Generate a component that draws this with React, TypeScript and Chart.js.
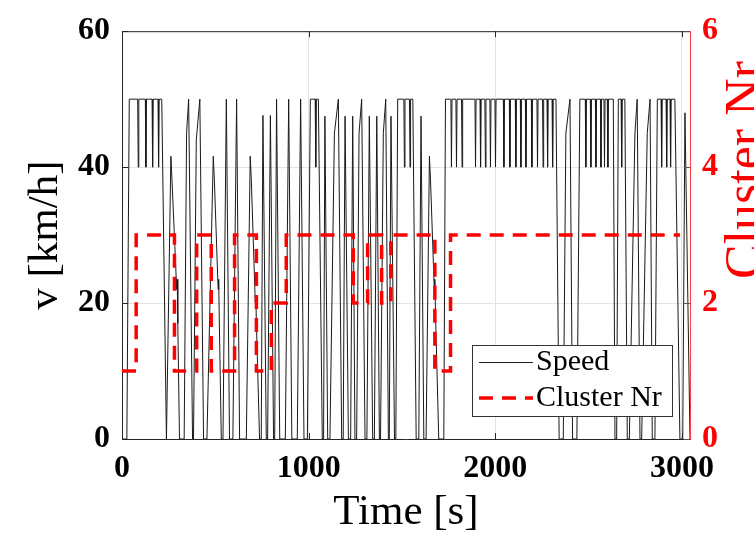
import React, { useEffect, useRef } from 'react';
import { Chart, registerables } from 'chart.js';

Chart.register(...registerables);

// ---------- data ----------
const speedTime = [
  0, 26, 39, 84, 87, 90, 125, 128, 131, 161, 164, 167, 193, 196, 199, 213, 238,
  262, 268, 293, 296, 299, 308,
  333, 346, 357, 378,
  383, 398, 417, 437,
  455, 489, 495, 515, 518, 521, 532,
  541, 559, 576,
  594, 614, 630,
  666, 687, 693, 714, 717, 720, 737,
  746, 755, 773,
  780, 795, 812,
  818, 828, 845,
  875, 893, 910,
  939, 957, 975,
  993, 1009, 1035, 1038, 1041, 1052, 1073,
  1080, 1087, 1102,
  1114, 1138, 1159, 1177,
  1185, 1195, 1213,
  1225, 1236, 1248,
  1257, 1270, 1284, 1302,
  1312, 1325, 1343,
  1352, 1365, 1379,
  1385, 1400, 1413, 1427,
  1432, 1441, 1460,
  1467, 1477, 1510, 1513, 1516, 1540, 1543, 1546, 1558, 1576,
  1590, 1602, 1617,
  1629, 1647, 1653, 1673, 1676, 1680, 1697,
  1724, 1733,
  1762, 1765, 1768, 1789, 1792, 1795, 1819, 1822, 1825,
  1891, 1894, 1897, 1918, 1921, 1924, 1944, 1947, 1950,
  1971, 1974, 1977, 1998, 2001, 2004, 2043, 2046, 2049,
  2075, 2078, 2081, 2107, 2110, 2113, 2134, 2137, 2140,
  2161, 2164, 2167, 2193, 2196, 2199, 2223, 2226, 2229,
  2253, 2256, 2259, 2277, 2280, 2283, 2304, 2307, 2310,
  2325, 2342,
  2364, 2378, 2400, 2414,
  2437, 2453,
  2482, 2485, 2488, 2509, 2512, 2515, 2536, 2539, 2542,
  2563, 2566, 2569, 2582, 2585, 2588, 2600, 2603, 2606,
  2632, 2641,
  2650, 2659, 2674, 2677, 2680, 2694, 2707,
  2718, 2748, 2760, 2775,
  2784, 2814, 2829, 2841,
  2855, 2868, 2888, 2891, 2894, 2915, 2918, 2921, 2936, 2939, 2942, 2962, 2989,
  3004, 3016, 3043,
];

const speedValue = [
  0, 0, 50, 50, 40, 50, 50, 40, 50, 50, 40, 50, 50, 40, 50, 50, 0,
  41.6, 38, 22, 23.5, 17, 0,
  0, 45, 50, 0,
  0, 44, 50, 0,
  0, 41.6, 38, 22, 23.5, 18, 0,
  0, 50, 0,
  0, 50, 0,
  0, 41.6, 38, 20, 21, 17, 0,
  0, 47.6, 0,
  0, 47.6, 0,
  0, 50, 0,
  0, 50, 0,
  0, 50, 0,
  0, 50, 50, 40, 50, 50, 0,
  0, 47.5, 0,
  0, 45, 50, 0,
  0, 47.5, 0,
  0, 47.5, 0,
  0, 45, 50, 0,
  0, 47.5, 0,
  0, 47.5, 0,
  0, 45, 50, 0,
  0, 47.5, 0,
  0, 50, 50, 40, 50, 50, 40, 50, 50, 0,
  0, 47.5, 0,
  0, 41.6, 38, 22, 23.5, 18, 0,
  0, 50,
  50, 40, 50, 50, 40, 50, 50, 40, 50,
  50, 40, 50, 50, 40, 50, 50, 40, 50,
  50, 40, 50, 50, 40, 50, 50, 40, 50,
  50, 40, 50, 50, 40, 50, 50, 40, 50,
  50, 40, 50, 50, 40, 50, 50, 40, 50,
  50, 40, 50, 50, 40, 50, 50, 40, 50,
  50, 0,
  0, 45, 50, 0,
  0, 50,
  50, 40, 50, 50, 40, 50, 50, 40, 50,
  50, 40, 50, 50, 40, 50, 50, 40, 50,
  50, 0,
  0, 50, 50, 40, 50, 50, 0,
  0, 45, 50, 0,
  0, 45, 50, 0,
  0, 50, 50, 40, 50, 50, 40, 50, 50, 40, 50, 50, 0,
  0, 48, 0,
];

const clusterTime = [0, 76, 281, 400, 478, 603, 720, 800, 880, 1239, 1316, 1391, 1440, 1676, 1760, 2990];
const clusterValue = [1, 3, 1, 3, 1, 3, 1, 2, 3, 2, 3, 2, 3, 1, 3, 3];

const xTicks = [0, 1000, 2000, 3000];
const yTicks = [0, 20, 40, 60];
const y1Ticks = [0, 2, 4, 6];

// ---------- layout constants ----------
const W = 800;
const H = 560;
const AREA_LEFT = 122;
const AREA_RIGHT = 690;
const AREA_TOP = 21;
const AREA_BOTTOM = 439;
const FONT = "'Liberation Serif', 'Times New Roman', serif";

const decorPlugin = {
  id: 'decor',
  afterDraw(chart: any) {
    const ctx = chart.ctx as CanvasRenderingContext2D;
    const a = chart.chartArea;
    const xs = chart.scales.x;
    const ys = chart.scales.y;
    const y1s = chart.scales.y1;
    ctx.save();
    // top frame line
    ctx.strokeStyle = '#262626';
    ctx.lineWidth = 1;
    ctx.beginPath();
    ctx.moveTo(a.left, a.top + 0.5);
    ctx.lineTo(a.right, a.top + 0.5);
    ctx.stroke();
    // inner ticks
    ctx.beginPath();
    xTicks.forEach((v) => {
      const px = Math.round(xs.getPixelForValue(v)) + 0.5;
      ctx.moveTo(px, a.bottom);
      ctx.lineTo(px, a.bottom - 6);
      ctx.moveTo(px, a.top);
      ctx.lineTo(px, a.top + 6);
    });
    yTicks.forEach((v) => {
      const py = Math.round(ys.getPixelForValue(v)) + 0.5;
      ctx.moveTo(a.left, py);
      ctx.lineTo(a.left + 6, py);
    });
    ctx.stroke();
    ctx.strokeStyle = '#555555';
    ctx.beginPath();
    y1Ticks.forEach((v) => {
      const py = Math.round(y1s.getPixelForValue(v)) + 0.5;
      ctx.moveTo(a.right, py);
      ctx.lineTo(a.right - 6, py);
    });
    ctx.stroke();

    // legend
    const lx = 472, ly = 345, lw = 201, lh = 72;
    ctx.fillStyle = '#ffffff';
    ctx.fillRect(lx, ly, lw, lh);
    ctx.strokeStyle = '#333333';
    ctx.lineWidth = 1;
    ctx.strokeRect(lx + 0.5, ly + 0.5, lw - 1, lh - 1);
    ctx.strokeStyle = '#1a1a1a';
    ctx.lineWidth = 1;
    ctx.beginPath();
    ctx.moveTo(479, 362.5);
    ctx.lineTo(533, 362.5);
    ctx.stroke();
    ctx.strokeStyle = '#ff0000';
    ctx.lineWidth = 3.5;
    ctx.setLineDash([14, 9]);
    ctx.beginPath();
    ctx.moveTo(479, 398);
    ctx.lineTo(533, 398);
    ctx.stroke();
    ctx.setLineDash([]);
    ctx.fillStyle = '#000000';
    ctx.font = `30px ${FONT}`;
    ctx.textAlign = 'left';
    ctx.textBaseline = 'middle';
    ctx.fillText('Speed', 536, 362);
    ctx.fillText('Cluster Nr', 536, 398);

    // right axis title (reads bottom-to-top, partly cut by the page edge)
    ctx.translate(761, 170);
    ctx.rotate(-Math.PI / 2);
    ctx.font = `52px ${FONT}`;
    ctx.fillStyle = '#ff0000';
    ctx.textAlign = 'center';
    ctx.textBaseline = 'alphabetic';
    ctx.fillText('Cluster Nr', 0, 0);
    ctx.restore();
  },
};

export default function App() {
  const canvasRef = useRef<HTMLCanvasElement | null>(null);

  useEffect(() => {
    const canvas = canvasRef.current;
    if (!canvas) return;
    const tickFont = { family: FONT, size: 32, weight: 'bold' as const };
    const chart = new Chart(canvas, {
      type: 'line',
      data: {
        datasets: [
          {
            label: 'Cluster Nr',
            data: clusterTime.map((t, i) => ({ x: t, y: clusterValue[i] })),
            yAxisID: 'y1',
            borderColor: '#ff0000',
            borderWidth: 3.5,
            borderDash: [14, 9],
            stepped: 'before',
            pointRadius: 0,
            fill: false,
          },
          {
            label: 'Speed',
            data: speedTime.map((t, i) => ({ x: t, y: speedValue[i] })),
            yAxisID: 'y',
            borderColor: '#1a1a1a',
            borderWidth: 1,
            pointRadius: 0,
            tension: 0,
            fill: false,
          },
        ],
      },
      options: {
        animation: false,
        responsive: false,
        devicePixelRatio: 1,
        layout: { padding: { top: AREA_TOP, left: 0, right: 0, bottom: 0 } },
        plugins: { legend: { display: false }, tooltip: { enabled: false } },
        scales: {
          x: {
            type: 'linear',
            min: 0,
            max: 3043,
            afterBuildTicks: (s: any) => {
              s.ticks = xTicks.map((v) => ({ value: v }));
            },
            afterFit: (s: any) => {
              s.height = H - AREA_BOTTOM;
            },
            ticks: {
              font: tickFont,
              color: '#000000',
              padding: 11,
              maxRotation: 0,
              autoSkip: false,
              callback: (v: any) => String(v),
            },
            grid: { color: '#e3e3e3', drawTicks: false },
            border: { color: '#262626', width: 1 },
            title: {
              display: true,
              text: 'Time [s]',
              font: { family: FONT, size: 43 },
              color: '#000000',
              padding: { top: 0, bottom: 21 },
            },
          },
          y: {
            position: 'left',
            min: 0,
            max: 60,
            afterBuildTicks: (s: any) => {
              s.ticks = yTicks.map((v) => ({ value: v }));
            },
            afterFit: (s: any) => {
              s.width = AREA_LEFT;
            },
            ticks: {
              font: tickFont,
              color: '#000000',
              padding: 12,
              callback: (v: any) => String(v),
            },
            grid: { color: '#e3e3e3', drawTicks: false },
            border: { color: '#262626', width: 1 },
            title: {
              display: true,
              text: 'v [km/h]',
              font: { family: FONT, size: 43 },
              color: '#000000',
              padding: { top: 20, bottom: 0 },
            },
          },
          y1: {
            position: 'right',
            min: 0,
            max: 6,
            afterBuildTicks: (s: any) => {
              s.ticks = y1Ticks.map((v) => ({ value: v }));
            },
            afterFit: (s: any) => {
              s.width = W - AREA_RIGHT;
            },
            ticks: {
              font: tickFont,
              color: '#ff0000',
              padding: 12,
              callback: (v: any) => String(v),
            },
            grid: { drawOnChartArea: false, drawTicks: false },
            border: { color: 'rgba(255,0,0,0.75)', width: 1 },
          },
        },
      },
      plugins: [decorPlugin],
    } as any);
    return () => chart.destroy();
  }, []);

  return (
    <div
      style={{
        position: 'fixed',
        left: 0,
        top: 0,
        width: 754,
        height: 533,
        overflow: 'hidden',
        background: '#ffffff',
      }}
    >
      <canvas ref={canvasRef} width={W} height={H} style={{ display: 'block', width: W, height: H }} />
    </div>
  );
}
